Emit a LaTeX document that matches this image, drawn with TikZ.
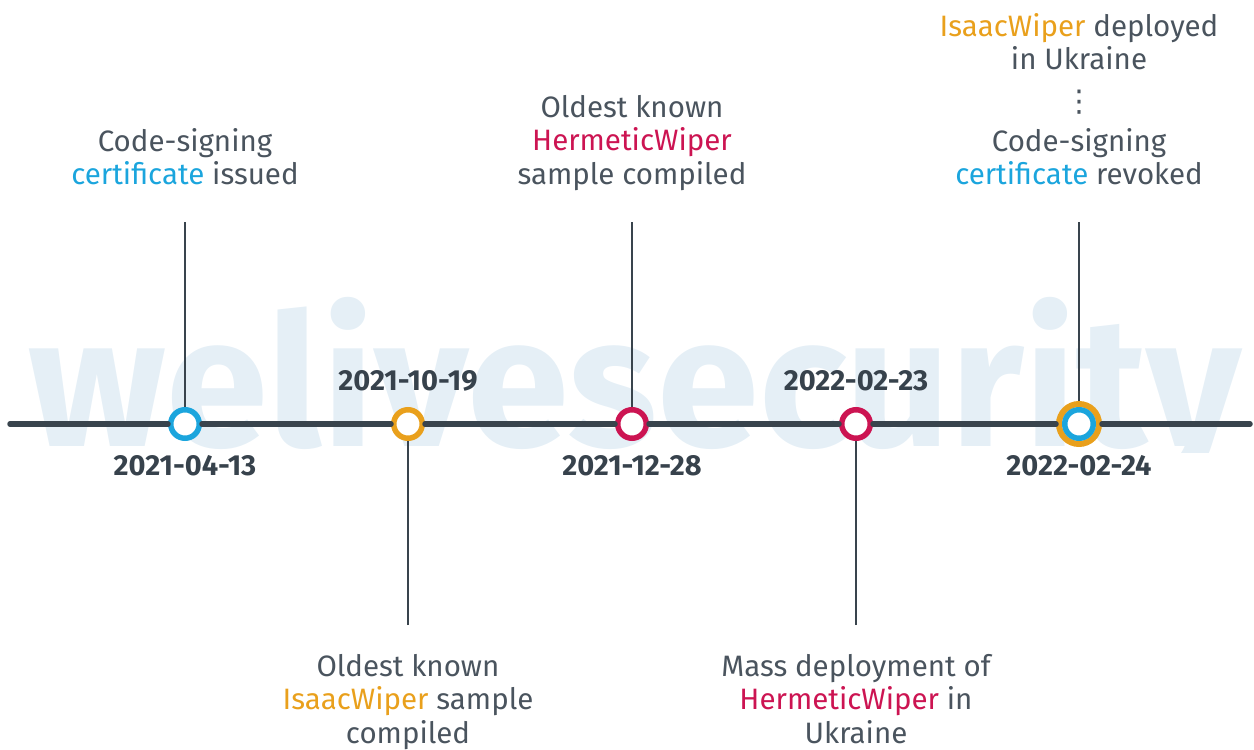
\documentclass[tikz,border=0pt]{standalone}
\usepackage{fontspec}
\setmainfont{Fira Sans}
\newfontfamily\dejavu{DejaVu Sans}
\definecolor{cblue}{RGB}{27,165,221}
\definecolor{corange}{RGB}{233,160,28}
\definecolor{ccrimson}{RGB}{204,20,82}
\definecolor{txtgray}{RGB}{74,84,94}
\definecolor{datecol}{RGB}{55,66,76}
\definecolor{linecol}{RGB}{57,68,77}
\definecolor{wmcol}{RGB}{229,239,246}
\newcommand{\cb}[1]{\textcolor{cblue}{#1}}
\newcommand{\co}[1]{\textcolor{corange}{#1}}
\newcommand{\cc}[1]{\textcolor{ccrimson}{#1}}
\begin{document}
\begin{tikzpicture}[x=1pt,y=-1pt,
  lbl/.style={align=center, inner sep=0pt, anchor=north, text=txtgray, font=\fontsize{29.5}{33.5}\selectfont},
  datelbl/.style={inner sep=0pt, anchor=base, text=datecol, font=\fontsize{29}{32}\selectfont\bfseries},
  ring/.style={circle, draw=#1, line width=5.5pt, minimum size=28.5pt, inner sep=0pt, fill=white},
  stem/.style={draw=linecol, line width=2.6pt},
  mainline/.style={draw=linecol, line width=5.5pt, line cap=round},
]
\useasboundingbox (0,0) rectangle (1254,750);
% watermark
\begin{scope}
\clip (0,280) rectangle (1254,452);
\node[anchor=base west, inner sep=0pt, text=wmcol] (wm) at (28,446) {\resizebox{1212pt}{!}{\bfseries welivesecurity}};
\end{scope}
% circles
\node[ring=cblue] (c1) at (185,424) {};
\node[ring=corange] (c2) at (408,424) {};
\node[ring=ccrimson] (c3) at (632,424) {};
\node[ring=ccrimson] (c4) at (856,424) {};
\node[circle, draw=corange, line width=6pt, minimum size=40pt, inner sep=0pt, fill=white] (c5) at (1079,424) {};
\node[ring=cblue] (c5i) at (1079,424) {};
% main line
\coordinate (L) at (10,424);
\coordinate (R) at (1250,424);
\draw[mainline] (L) -- (c1);
\draw[mainline] (c1) -- (c2);
\draw[mainline] (c2) -- (c3);
\draw[mainline] (c3) -- (c4);
\draw[mainline] (c4) -- (c5);
\draw[mainline] (c5) -- (R);
% stems
\coordinate (t1) at (185,222);
\coordinate (t2) at (408,625);
\coordinate (t3) at (632,222);
\coordinate (t4) at (856,625);
\coordinate (t5) at (1079,222);
\draw[stem] (t1) -- (c1);
\draw[stem] (t2) -- (c2);
\draw[stem] (t3) -- (c3);
\draw[stem] (t4) -- (c4);
\draw[stem] (t5) -- (c5);
% dates
\node[datelbl] (d1) at (185,475) {2021-04-13};
\node[datelbl] (d2) at (408,390) {2021-10-19};
\node[datelbl] (d3) at (632,475) {2021-12-28};
\node[datelbl] (d4) at (856,390) {2022-02-23};
\node[datelbl] (d5) at (1079,475) {2022-02-24};
% labels
\node[lbl] (l1) at (185,128) {Code-signing\\\cb{certificate} issued};
\node[lbl] (l2) at (408,654) {Oldest known\\\co{IsaacWiper} sample\\compiled};
\node[lbl] (l3) at (632,95) {Oldest known\\\cc{HermeticWiper}\\sample compiled};
\node[lbl] (l4) at (856,654) {Mass deployment of\\\cc{HermeticWiper} in\\Ukraine};
\node[lbl] (l5a) at (1079,13) {\co{IsaacWiper} deployed\\in Ukraine};
\node[inner sep=0pt, text=txtgray, font=\dejavu\fontsize{30}{30}\selectfont] (l5d) at (1079,102) {⋮};
\node[lbl] (l5b) at (1079,128) {Code-signing\\\cb{certificate} revoked};
\end{tikzpicture}
\end{document}
